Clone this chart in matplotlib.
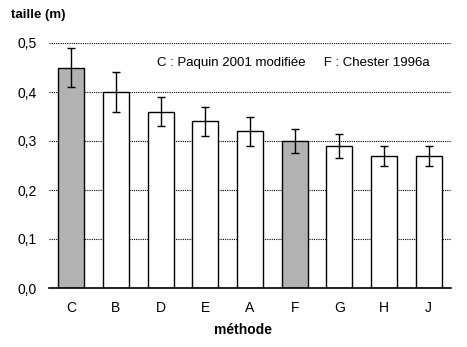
import matplotlib
matplotlib.use("Agg")
import matplotlib.pyplot as plt
import numpy as np

plt.rcParams['font.family'] = ['Liberation Sans', 'DejaVu Sans']

methodes = ["C", "B", "D", "E", "A", "F", "G", "H", "J"]
tailles = [0.45, 0.40, 0.36, 0.34, 0.32, 0.30, 0.29, 0.27, 0.27]
erreurs = [0.04, 0.04, 0.03, 0.03, 0.03, 0.025, 0.024, 0.02, 0.02]
surlignees = ["C", "F"]
y_ticks = [0.0, 0.1, 0.2, 0.3, 0.4, 0.5]

fig = plt.figure(figsize=(4.67, 3.47), dpi=100)
ax = fig.add_axes([49 / 467, 1 - 288 / 347, 402 / 467, 245 / 347])

x = np.arange(len(methodes))
couleurs = ["#b2b2b2" if m in surlignees else "white" for m in methodes]
ax.bar(x, tailles, width=0.58, color=couleurs, edgecolor="black",
       linewidth=1.0, zorder=2)
ax.errorbar(x, tailles, yerr=erreurs, fmt="none", ecolor="black",
            elinewidth=1.0, capsize=2.6, capthick=1.0, zorder=3,
            clip_on=False)

ax.set_xlim(-0.5, len(methodes) - 0.5)
ax.set_ylim(0, 0.5)
ax.set_yticks(y_ticks)
ax.set_yticklabels([f"{v:.1f}".replace(".", ",") for v in y_ticks])
ax.set_xticks(x)
ax.set_xticklabels(methodes)
ax.tick_params(length=0, labelsize=10)
ax.tick_params(axis="x", pad=9)
ax.tick_params(axis="y", pad=9)

for v in y_ticks[1:]:
    ax.axhline(v, color="black", linestyle=(0, (1, 1)), linewidth=0.8,
               zorder=1)

for s in ["top", "right", "left"]:
    ax.spines[s].set_visible(False)
ax.spines["bottom"].set_linewidth(1.2)

# légende des barres grisées
ax.text(108 / 402, 225 / 245, "C : Paquin 2001 modifiée     F : Chester 1996a",
        transform=ax.transAxes, fontsize=9.5, va="center", ha="left")

fig.text(11 / 467, 1 - 15 / 347, "taille (m)", fontsize=9.5,
         fontweight="bold", va="center", ha="left")
fig.text(243 / 467, 1 - 330 / 347, "méthode", fontsize=10,
         fontweight="bold", va="center", ha="center")

fig.savefig("out.png", dpi=100)
